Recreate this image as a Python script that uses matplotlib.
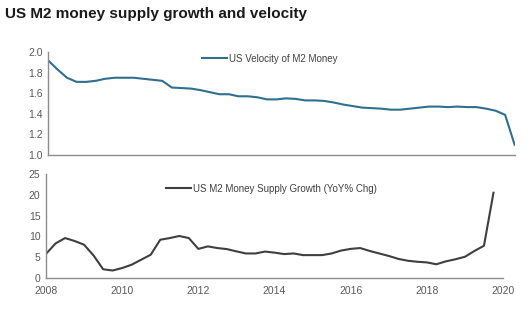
import numpy as np
import matplotlib
matplotlib.use("Agg")
import matplotlib.pyplot as plt

plt.rcParams['font.family'] = ['Liberation Sans', 'DejaVu Sans']

# Velocity of M2 (quarterly, 2008Q1 - 2020Q2)
velocity = [1.92, 1.83, 1.75, 1.71, 1.71, 1.72, 1.74, 1.75,
            1.75, 1.75, 1.74, 1.73, 1.72, 1.655, 1.65, 1.645,
            1.63, 1.61, 1.59, 1.59, 1.57, 1.57, 1.56, 1.54,
            1.54, 1.55, 1.545, 1.53, 1.53, 1.525, 1.51, 1.49,
            1.475, 1.46, 1.455, 1.45, 1.44, 1.44, 1.45, 1.46,
            1.47, 1.47, 1.465, 1.47, 1.465, 1.465, 1.45, 1.43,
            1.39, 1.10]
velocity_x = [2008 + 0.25 * i for i in range(len(velocity))]

# M2 money supply growth YoY % (quarterly, 2008Q1 - 2019Q4)
growth = [5.8, 8.3, 9.6, 8.9, 8.0, 5.4, 2.1, 1.8,
          2.4, 3.2, 4.4, 5.6, 9.2, 9.6, 10.1, 9.6,
          7.0, 7.6, 7.2, 6.95, 6.4, 5.9, 5.9, 6.35,
          6.1, 5.75, 5.9, 5.5, 5.5, 5.5, 5.9, 6.6,
          7.0, 7.2, 6.5, 5.9, 5.3, 4.6, 4.15, 3.9,
          3.75, 3.3, 4.0, 4.5, 5.1, 6.5, 7.75, 20.5]
growth_x = [2008 + 0.25 * i for i in range(len(growth))]

top_yticks = [1.0, 1.2, 1.4, 1.6, 1.8, 2.0]
bottom_yticks = [0, 5, 10, 15, 20, 25]
xticks = [2008, 2010, 2012, 2014, 2016, 2018, 2020]

title = "US M2 money supply growth and velocity"
vel_label = "US Velocity of M2 Money"
growth_label = "US M2 Money Supply Growth (YoY% Chg)"

W, H = 532, 321
fig = plt.figure(figsize=(W / 100, H / 100), dpi=100)

def box(l, t, r, b):
    return [l / W, 1 - b / H, (r - l) / W, (b - t) / H]

spine_c = "#8c8c8c"
tick_c = "#595959"

ax1 = fig.add_axes(box(48, 52, 515, 155))
ax1.plot(velocity_x, velocity, color="#2f6f8f", lw=1.5, label=vel_label)
ax1.set_xlim(2008, 2020.26)
ax1.set_ylim(1.0, 2.0)
ax1.set_yticks(top_yticks)
ax1.set_yticklabels([f"{v:.1f}" for v in top_yticks])
ax1.set_xticks([])

ax2 = fig.add_axes(box(46, 174, 503, 278))
ax2.plot(growth_x, growth, color="#3f3f3f", lw=1.5, label=growth_label)
ax2.set_xlim(2008, 2020.0)
ax2.set_ylim(0, 25)
ax2.set_yticks(bottom_yticks)
ax2.set_xticks(xticks)

for ax in (ax1, ax2):
    for s in ("top", "right"):
        ax.spines[s].set_visible(False)
    for s in ("left", "bottom"):
        ax.spines[s].set_color(spine_c)
        ax.spines[s].set_linewidth(1.0)
    ax.tick_params(length=0, labelsize=7.5, colors=tick_c, pad=4)
    ax.set_facecolor("none")

ax2.tick_params(axis='x', pad=6)

ax1.legend(loc="upper left", bbox_to_anchor=(197 / W, 1 - 49 / H), bbox_transform=fig.transFigure,
           frameon=False, fontsize=7.0, handlelength=2.6, handletextpad=0.15,
           borderpad=0, labelcolor="#404040")
ax2.legend(loc="upper left", bbox_to_anchor=(161 / W, 1 - 179 / H), bbox_transform=fig.transFigure,
           frameon=False, fontsize=7.0, handlelength=2.6, handletextpad=0.15,
           borderpad=0, labelcolor="#404040")

fig.text(5 / W, 1 - 14 / H, title, fontsize=11.0, fontweight="bold", color="#1a1a1a",
         ha="left", va="center")

fig.savefig("out.png", dpi=100)
